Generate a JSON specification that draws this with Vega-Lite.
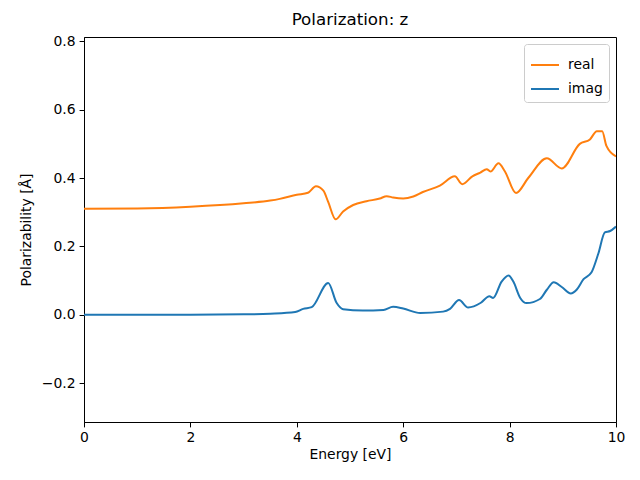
{
  "$schema": "https://vega.github.io/schema/vega-lite/v6.json",
  "autosize": "none",
  "width": 532,
  "height": 385,
  "padding": {"left": 84, "top": 37, "right": 24, "bottom": 58},
  "title": {"text": "Polarization: z", "font": "DejaVu Sans", "fontSize": 16.7, "fontWeight": "normal", "color": "black", "offset": 6},
  "config": {
    "view": {"stroke": "black", "strokeWidth": 1},
    "axis": {"grid": false, "domainColor": "black", "tickColor": "black", "labelColor": "black", "titleColor": "black", "labelFont": "DejaVu Sans", "titleFont": "DejaVu Sans", "labelFontSize": 13.9, "titleFontSize": 13.9, "titleFontWeight": "normal", "tickSize": 4.9, "labelPadding": 4, "labelFlush": false, "labelOverlap": false}
  },
  "data": {"values": [
    {"E": 0, "v": 0.31, "s": "real"},
    {"E": 1, "v": 0.311, "s": "real"},
    {"E": 2, "v": 0.316, "s": "real"},
    {"E": 3, "v": 0.326, "s": "real"},
    {"E": 3.5, "v": 0.334, "s": "real"},
    {"E": 3.68, "v": 0.339, "s": "real"},
    {"E": 4.0, "v": 0.351, "s": "real"},
    {"E": 4.21, "v": 0.357, "s": "real"},
    {"E": 4.36, "v": 0.376, "s": "real"},
    {"E": 4.5, "v": 0.363, "s": "real"},
    {"E": 4.59, "v": 0.33, "s": "real"},
    {"E": 4.73, "v": 0.279, "s": "real"},
    {"E": 4.87, "v": 0.302, "s": "real"},
    {"E": 5.06, "v": 0.321, "s": "real"},
    {"E": 5.31, "v": 0.332, "s": "real"},
    {"E": 5.56, "v": 0.34, "s": "real"},
    {"E": 5.69, "v": 0.347, "s": "real"},
    {"E": 5.81, "v": 0.343, "s": "real"},
    {"E": 6.0, "v": 0.34, "s": "real"},
    {"E": 6.19, "v": 0.346, "s": "real"},
    {"E": 6.37, "v": 0.359, "s": "real"},
    {"E": 6.69, "v": 0.378, "s": "real"},
    {"E": 6.97, "v": 0.405, "s": "real"},
    {"E": 7.11, "v": 0.382, "s": "real"},
    {"E": 7.3, "v": 0.405, "s": "real"},
    {"E": 7.45, "v": 0.416, "s": "real"},
    {"E": 7.57, "v": 0.426, "s": "real"},
    {"E": 7.64, "v": 0.419, "s": "real"},
    {"E": 7.79, "v": 0.443, "s": "real"},
    {"E": 7.91, "v": 0.42, "s": "real"},
    {"E": 8.12, "v": 0.356, "s": "real"},
    {"E": 8.35, "v": 0.4, "s": "real"},
    {"E": 8.7, "v": 0.458, "s": "real"},
    {"E": 8.98, "v": 0.428, "s": "real"},
    {"E": 9.32, "v": 0.5, "s": "real"},
    {"E": 9.51, "v": 0.513, "s": "real"},
    {"E": 9.64, "v": 0.537, "s": "real"},
    {"E": 9.74, "v": 0.537, "s": "real"},
    {"E": 9.82, "v": 0.494, "s": "real"},
    {"E": 10.0, "v": 0.463, "s": "real"},
    {"E": 0, "v": 0.0, "s": "imag"},
    {"E": 1, "v": 0.0, "s": "imag"},
    {"E": 2, "v": 0.0, "s": "imag"},
    {"E": 3, "v": 0.001, "s": "imag"},
    {"E": 3.5, "v": 0.003, "s": "imag"},
    {"E": 3.97, "v": 0.008, "s": "imag"},
    {"E": 4.12, "v": 0.017, "s": "imag"},
    {"E": 4.28, "v": 0.022, "s": "imag"},
    {"E": 4.59, "v": 0.093, "s": "imag"},
    {"E": 4.75, "v": 0.034, "s": "imag"},
    {"E": 4.87, "v": 0.016, "s": "imag"},
    {"E": 5.24, "v": 0.012, "s": "imag"},
    {"E": 5.63, "v": 0.014, "s": "imag"},
    {"E": 5.81, "v": 0.023, "s": "imag"},
    {"E": 6.0, "v": 0.018, "s": "imag"},
    {"E": 6.32, "v": 0.005, "s": "imag"},
    {"E": 6.75, "v": 0.009, "s": "imag"},
    {"E": 6.88, "v": 0.017, "s": "imag"},
    {"E": 7.05, "v": 0.043, "s": "imag"},
    {"E": 7.22, "v": 0.021, "s": "imag"},
    {"E": 7.46, "v": 0.035, "s": "imag"},
    {"E": 7.62, "v": 0.054, "s": "imag"},
    {"E": 7.69, "v": 0.049, "s": "imag"},
    {"E": 7.85, "v": 0.097, "s": "imag"},
    {"E": 7.98, "v": 0.115, "s": "imag"},
    {"E": 8.07, "v": 0.097, "s": "imag"},
    {"E": 8.2, "v": 0.049, "s": "imag"},
    {"E": 8.32, "v": 0.034, "s": "imag"},
    {"E": 8.57, "v": 0.046, "s": "imag"},
    {"E": 8.7, "v": 0.073, "s": "imag"},
    {"E": 8.83, "v": 0.095, "s": "imag"},
    {"E": 8.98, "v": 0.081, "s": "imag"},
    {"E": 9.15, "v": 0.062, "s": "imag"},
    {"E": 9.26, "v": 0.073, "s": "imag"},
    {"E": 9.39, "v": 0.104, "s": "imag"},
    {"E": 9.54, "v": 0.124, "s": "imag"},
    {"E": 9.67, "v": 0.18, "s": "imag"},
    {"E": 9.79, "v": 0.241, "s": "imag"},
    {"E": 9.89, "v": 0.245, "s": "imag"},
    {"E": 10.0, "v": 0.258, "s": "imag"}
  ]},
  "mark": {"type": "line", "strokeWidth": 2, "interpolate": "monotone", "clip": true},
  "encoding": {
    "x": {"field": "E", "type": "quantitative", "title": "Energy [eV]",
      "scale": {"domain": [0, 10], "nice": false, "zero": false},
      "axis": {"values": [0, 2, 4, 6, 8, 10], "format": "d", "titlePadding": 3}},
    "y": {"field": "v", "type": "quantitative", "title": "Polarizability [Å]",
      "scale": {"domain": [-0.314, 0.8127], "nice": false, "zero": false},
      "axis": {"values": [-0.2, 0, 0.2, 0.4, 0.6, 0.8], "format": ".1f", "titlePadding": 8}},
    "color": {"field": "s", "type": "nominal",
      "scale": {"domain": ["real", "imag"], "range": ["#ff7f0e", "#1f77b4"]},
      "legend": {"title": null, "orient": "top-right", "offset": 7, "fillColor": "white", "strokeColor": "#cccccc", "cornerRadius": 3, "padding": 6, "symbolType": "stroke", "symbolStrokeWidth": 2, "symbolSize": 784, "labelFont": "DejaVu Sans", "labelFontSize": 13.9, "labelColor": "black", "rowPadding": 2, "labelOffset": 8}}
  }
}
